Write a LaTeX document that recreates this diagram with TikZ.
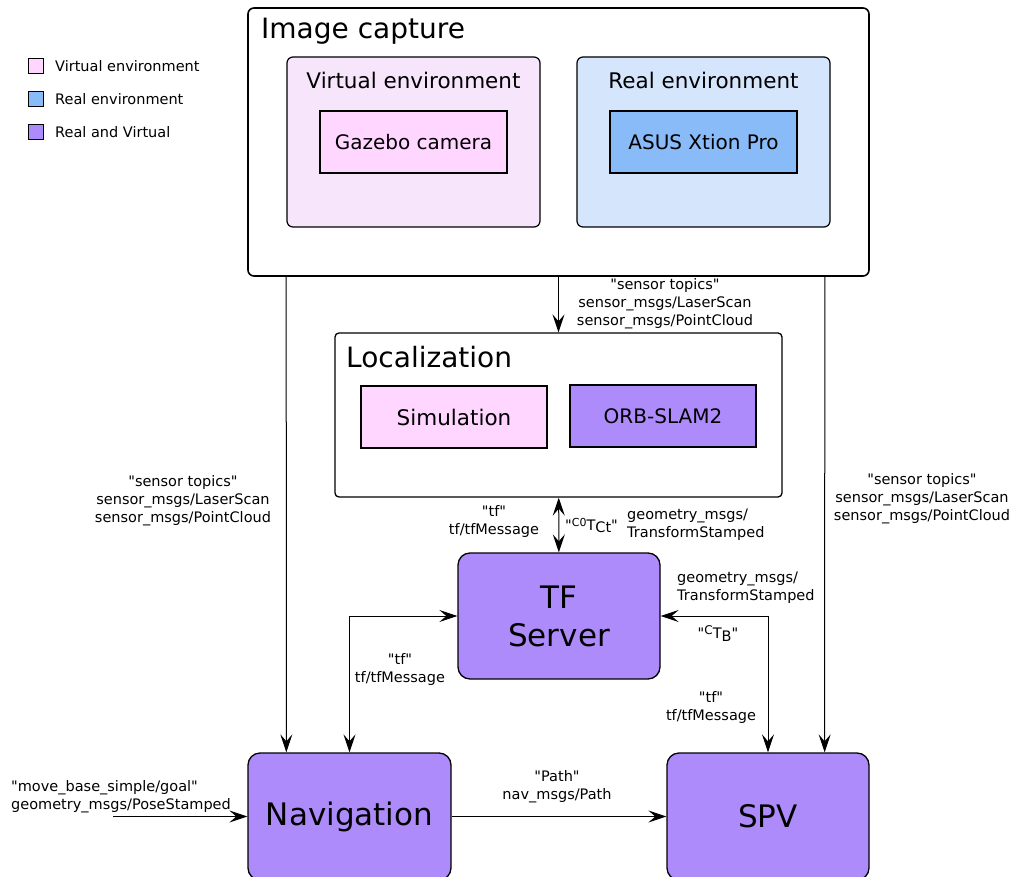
\documentclass[tikz,border=0pt]{standalone}
\usepackage{fontspec}
\setmainfont{DejaVu Sans}
\usetikzlibrary{arrows.meta}

\definecolor{virtbg}{RGB}{247,229,251}
\definecolor{virtfill}{RGB}{255,214,255}
\definecolor{realbg}{RGB}{213,229,252}
\definecolor{realfill}{RGB}{136,187,247}
\definecolor{bothfill}{RGB}{174,139,250}
\newcommand{\qt}{\textquotedbl}

\begin{document}
\begin{tikzpicture}[x=1pt, y=-1pt,
    outer/.style={draw, line width=1.6pt, rounded corners=6pt, inner sep=0pt},
    inbox/.style={draw, line width=1.2pt, inner sep=0pt, font=\fontsize{20}{24}\selectfont},
    proc/.style={draw, line width=1.3pt, rounded corners=12pt, fill=bothfill, inner sep=0pt,
      align=center, font=\fontsize{31}{38}\selectfont},
    lbl/.style={align=center, inner sep=0pt, font=\fontsize{14.5}{18}\selectfont},
    lgd/.style={draw, line width=1pt, minimum size=15pt, inner sep=0pt},
    arr/.style={line width=1pt, -{Stealth[length=18pt, width=12pt, inset=7pt]}},
    darr/.style={line width=1pt, {Stealth[length=18pt, width=12pt, inset=7pt]}-{Stealth[length=18pt, width=12pt, inset=7pt]}}]

    \useasboundingbox (0,0) rectangle (1014,877);

    % 图例
    \node[lgd, fill=virtfill] (lgv) at (36,66) {};
    \node[lgd, fill=realfill] (lgr) at (36,99) {};
    \node[lgd, fill=bothfill] (lgb) at (36,132) {};
    \node[lbl, anchor=west] (lgvt) at (55,66) {Virtual environment};
    \node[lbl, anchor=west] (lgrt) at (55,99) {Real environment};
    \node[lbl, anchor=west] (lgbt) at (55,132) {Real and Virtual};

    % 图像采集
    \node[outer, fill=white, minimum width=621pt, minimum height=268pt] (img) at (558.5,142) {};
    \node[anchor=west, inner sep=0pt, font=\fontsize{28}{32}\selectfont] (imgt) at (261,31) {Image capture};
    \node[outer, line width=1.2pt, fill=virtbg, minimum width=253pt, minimum height=170pt] (venv) at (413.5,142) {};
    \node[inner sep=0pt, font=\fontsize{21.5}{25}\selectfont] (venvt) at (413.5,80) {Virtual environment};
    \node[inbox, fill=virtfill, minimum width=187pt, minimum height=62pt] (gazebo) at (413.5,142) {Gazebo camera};
    \node[outer, line width=1.2pt, fill=realbg, minimum width=253pt, minimum height=170pt] (renv) at (703.5,142) {};
    \node[inner sep=0pt, font=\fontsize{21.5}{25}\selectfont] (renvt) at (703.5,80) {Real environment};
    \node[inbox, fill=realfill, minimum width=187pt, minimum height=62pt] (asus) at (703.5,142) {ASUS Xtion Pro};

    % 定位
    \node[outer, fill=white, line width=1.3pt, rounded corners=4pt, minimum width=447pt, minimum height=164pt] (loc) at (558.5,415) {};
    \node[anchor=west, inner sep=0pt, font=\fontsize{28}{32}\selectfont] (loct) at (346,357) {Localization};
    \node[inbox, fill=virtfill, minimum width=186pt, minimum height=62pt, font=\fontsize{21.5}{25}\selectfont] (sim) at (454,417) {Simulation};
    \node[inbox, fill=bothfill, minimum width=186pt, minimum height=62pt] (orb) at (663,416) {ORB-SLAM2};

    % 处理节点
    \node[proc, minimum width=202pt, minimum height=126pt] (tf) at (559,616) {TF\\Server};
    \node[proc, minimum width=203pt, minimum height=127pt] (nav) at (349.5,816.5) {Navigation};
    \node[proc, minimum width=202pt, minimum height=127pt] (spv) at (768,816.5) {SPV};
    \coordinate (goal) at (113,816.5);

    % 连线
    \draw[arr] (img) -- (loc);
    \draw[arr] ([xshift=39pt]img.south west) -- ([xshift=39pt]nav.north west);
    \draw[arr] ([xshift=-45pt]img.south east) -- ([xshift=-45pt]spv.north east);
    \draw[darr] (loc) -- (tf);
    \draw[darr] (nav.north) |- (tf.west);
    \draw[darr] (spv.north) |- (tf.east);
    \draw[arr] (nav) -- (spv);
    \draw[arr] (goal) -- (nav);

    % 标签
    \node[lbl] (l1) at (665,304) {\qt sensor topics\qt\\sensor\_msgs/LaserScan\\sensor\_msgs/PointCloud};
    \node[lbl] (l2) at (183,501) {\qt sensor topics\qt\\sensor\_msgs/LaserScan\\sensor\_msgs/PointCloud};
    \node[lbl] (l3) at (922,499) {\qt sensor topics\qt\\sensor\_msgs/LaserScan\\sensor\_msgs/PointCloud};
    \node[lbl] (l4) at (494,521) {\qt tf\qt\\tf/tfMessage};
    \node[lbl, anchor=west] (l5) at (565,526) {\qt\raisebox{4pt}{\fontsize{11}{12}\selectfont C0}T\raisebox{-2pt}{Ct}\qt};
    \node[lbl, anchor=west, align=left] (l6) at (627,525) {geometry\_msgs/\\TransformStamped};
    \node[lbl, anchor=west, align=left] (l7) at (677,588) {geometry\_msgs/\\TransformStamped};
    \node[lbl] (l8) at (718,634) {\qt\raisebox{4pt}{\fontsize{12}{13}\selectfont C}T\raisebox{-3pt}{B}\qt};
    \node[lbl] (l9) at (711,707) {\qt tf\qt\\tf/tfMessage};
    \node[lbl] (l10) at (400,669) {\qt tf\qt\\tf/tfMessage};
    \node[lbl] (l11) at (557,787) {\qt Path\qt\\nav\_msgs/Path};
    \node[lbl, anchor=west, align=left] (l12) at (11,797) {\qt move\_base\_simple/goal\qt\\geometry\_msgs/PoseStamped};

  \end{tikzpicture}
\end{document}
